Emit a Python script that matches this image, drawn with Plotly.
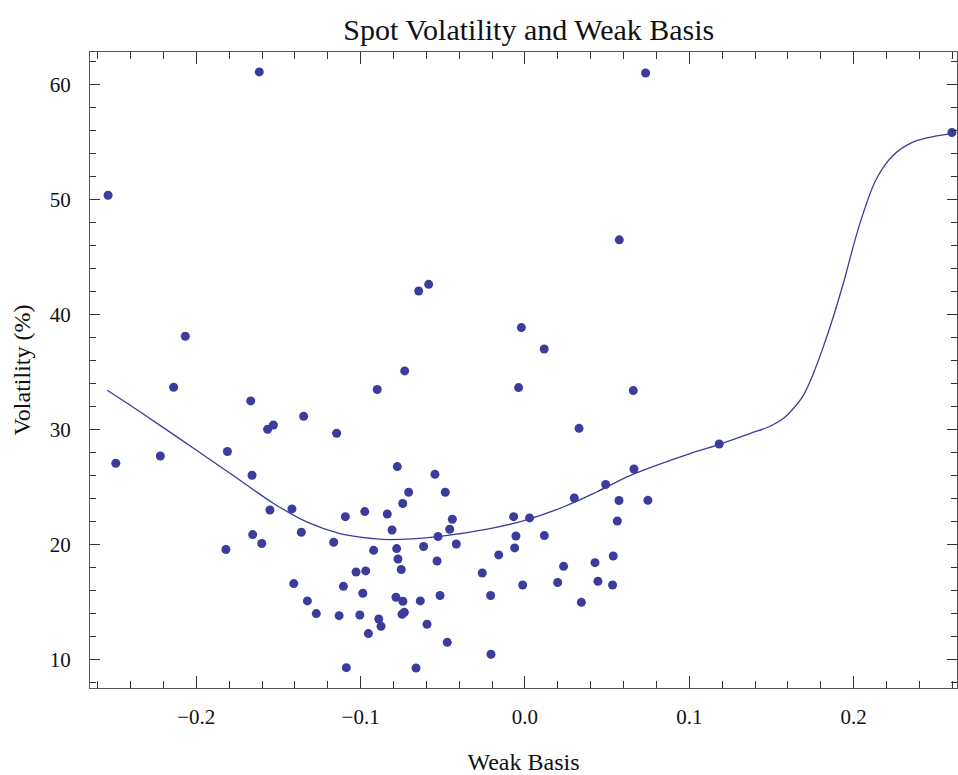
import plotly.graph_objects as go

# Scatter data: weak basis vs spot volatility (%)
basis = [-0.2537, -0.1617, 0.0734, 0.0574, 0.2598, -0.2490, -0.2067, -0.2138, -0.2219, -0.1811,
         -0.1820, -0.1669, -0.1661, -0.1657, -0.1602, -0.1566, -0.1531, -0.1552, -0.1347, -0.1418,
         -0.1361, -0.1407, -0.1324, -0.1270, -0.1146, -0.1164, -0.1093, -0.1105, -0.1131, -0.1087,
         -0.0899, -0.0975, -0.0838, -0.0809, -0.0921, -0.1028, -0.0969, -0.0987, -0.1005, -0.0953,
         -0.0890, -0.0876, -0.0732, -0.0777, -0.0708, -0.0744, -0.0781, -0.0773, -0.0753, -0.0785,
         -0.0743, -0.0748, -0.0734, -0.0663, -0.0617, -0.0637, -0.0596, -0.0548, -0.0485, -0.0442,
         -0.0458, -0.0529, -0.0418, -0.0535, -0.0517, -0.0473, -0.0647, -0.0586, -0.0022, 0.0117,
         -0.0039, 0.0659, 0.0329, 0.0663, 0.0491, 0.0300, 0.0572, 0.0748, 0.0562, -0.0069,
         0.0028, -0.0055, 0.0118, -0.0063, -0.0160, -0.0260, -0.0209, -0.0014, -0.0207, 0.0235,
         0.0199, 0.0343, 0.0426, 0.0444, 0.0537, 0.0533, 0.1182]
volatility = [50.37, 61.10, 61.00, 46.50, 55.83, 27.07, 38.11, 33.68, 27.70, 28.09,
              19.57, 32.49, 26.03, 20.87, 20.09, 30.03, 30.40, 23.01, 31.16, 23.10,
              21.07, 16.61, 15.10, 14.00, 29.68, 20.20, 22.43, 16.37, 13.82, 9.30,
              33.48, 22.87, 22.66, 21.27, 19.50, 17.62, 17.71, 15.77, 13.88, 12.26,
              13.53, 12.90, 35.10, 26.78, 24.55, 23.57, 19.65, 18.75, 17.83, 15.42,
              15.07, 13.94, 14.11, 9.27, 19.83, 15.10, 13.07, 26.11, 24.55, 22.20,
              21.33, 20.70, 20.05, 18.57, 15.57, 11.50, 42.05, 42.63, 38.87, 37.01,
              33.65, 33.39, 30.11, 26.57, 25.22, 24.05, 23.83, 23.85, 22.05, 22.43,
              22.32, 20.75, 20.78, 19.71, 19.10, 17.53, 15.57, 16.49, 10.46, 18.11,
              16.70, 14.98, 18.43, 16.81, 19.01, 16.49, 28.75]

# Fitted curve
fit_x = [-0.2542, -0.2343, -0.2140, -0.1937, -0.1734, -0.1532, -0.1328, -0.1126, -0.0923, -0.0821,
         -0.0517, -0.0213, 0.0000, 0.0233, 0.0436, 0.0639, 0.1004, 0.1185, 0.1369, 0.1491,
         0.1572, 0.1633, 0.1694, 0.1755, 0.1815, 0.1876, 0.1937, 0.2038, 0.2140, 0.2241,
         0.2342, 0.2444, 0.2596]
fit_y = [33.42, 31.55, 29.58, 27.60, 25.59, 23.60, 21.97, 20.96, 20.52, 20.43,
         20.72, 21.39, 22.11, 23.27, 24.57, 26.00, 27.91, 28.72, 29.65, 30.29,
         30.96, 31.83, 32.98, 34.87, 37.18, 39.79, 42.70, 47.91, 51.83, 53.85,
         54.87, 55.36, 55.74]

x_tickvals = [-0.2, -0.1, 0.0, 0.1, 0.2]
x_ticktext = ["\u22120.2", "\u22120.1", "0.0", "0.1", "0.2"]
y_tickvals = [10, 20, 30, 40, 50, 60]

color = "#3c3c9c"
font = "Liberation Serif, Times New Roman, serif"
frame = "#555555"

fig = go.Figure()
fig.add_trace(go.Scatter(x=fit_x, y=fit_y, mode="lines", line=dict(color=color, width=1.3, shape="spline", smoothing=1.0),
                         hoverinfo="skip", showlegend=False))
fig.add_trace(go.Scatter(x=basis, y=volatility, mode="markers", marker=dict(color=color, size=9),
                         showlegend=False))

axis_common = dict(showline=True, linecolor=frame, linewidth=1.2, mirror="allticks", automargin=False,
                   ticks="inside", tickcolor="#333333", tickwidth=1, showgrid=False, zeroline=False,
                   tickfont=dict(family=font, size=21, color="#111111"))

fig.update_layout(
    width=958, height=775,
    margin=dict(l=90, r=1, t=52, b=87),
    paper_bgcolor="white", plot_bgcolor="white",
    title=dict(text="Spot Volatility and Weak Basis", x=0.552, xanchor="center", y=0.962, yanchor="middle",
               font=dict(family=font, size=30, color="#111111")),
    xaxis=dict(range=[-0.2647, 0.2629], tickvals=x_tickvals, ticktext=x_ticktext, ticklen=12,
               ticklabelstandoff=10,
               minor=dict(ticks="inside", dtick=0.02, tick0=0, ticklen=7, tickcolor="#333333"),
               title=dict(text="Weak Basis", font=dict(family=font, size=24, color="#111111"), standoff=24),
               **axis_common),
    yaxis=dict(range=[7.53, 62.83], tickvals=y_tickvals, ticklen=10,
               ticklabelstandoff=14,
               minor=dict(ticks="inside", dtick=2, tick0=0, ticklen=6, tickcolor="#333333"),
               title=dict(text="Volatility (%)", font=dict(family=font, size=24, color="#111111"), standoff=12),
               **axis_common),
)

fig.write_html("out.html", config={"displayModeBar": False},
               post_script="document.body.style.margin='0';document.body.style.overflow='hidden';")
